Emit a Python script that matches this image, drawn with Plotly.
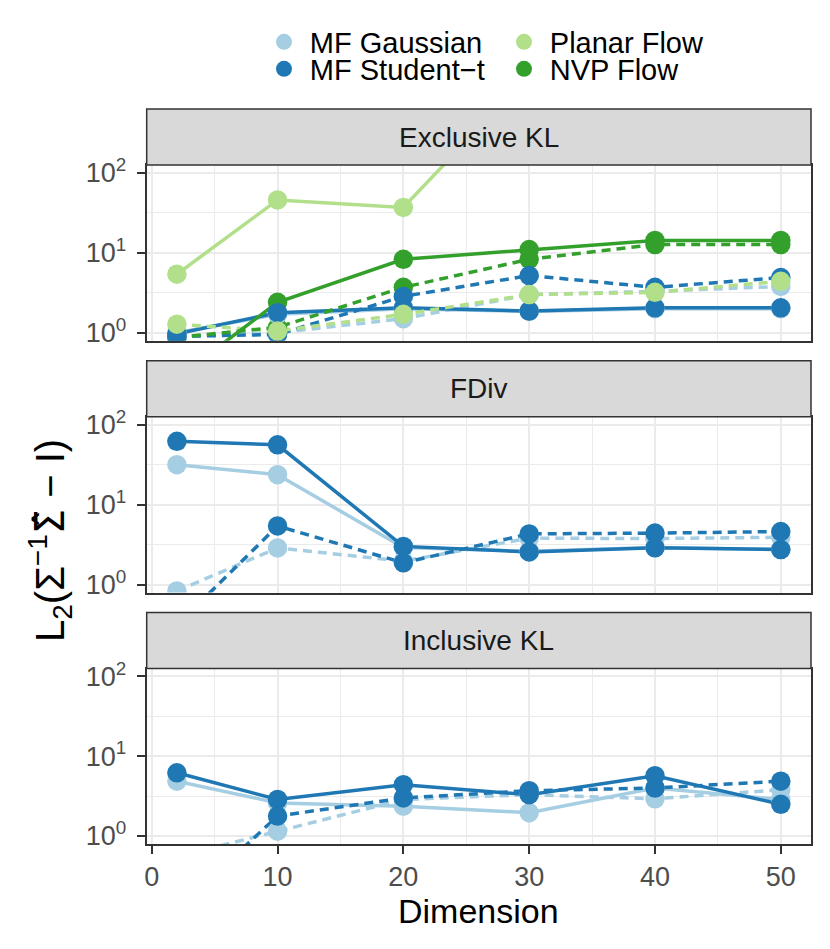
import plotly.graph_objects as go

# x values (dimension)
dims = [2, 10, 20, 30, 40, 50]

# Exclusive KL
excl_gauss_solid = [1.0, 1.7, 2.0, 1.85, 2.0, 2.0]
excl_gauss_dashed = [0.9, 1.0, 1.5, 3.0, 3.3, 3.8]
excl_student_solid = [0.97, 1.78, 2.05, 1.87, 2.05, 2.05]
excl_student_dashed = [0.9, 0.95, 2.85, 5.2, 3.7, 4.9]
excl_planar_solid = [5.4, 46, 37, 1700, 3000, 5000]
excl_planar_dashed = [1.28, 1.05, 1.7, 3.0, 3.2, 4.4]
excl_nvp_solid = [0.27, 2.4, 8.3, 11, 14.3, 14.3]
excl_nvp_dashed = [0.87, 1.17, 3.7, 8.3, 12.7, 12.7]

# FDiv
fdiv_gauss_solid = [31.6, 23.7, 2.9, 2.6, 2.9, 2.75]
fdiv_gauss_dashed = [0.83, 2.87, 1.96, 3.8, 3.76, 3.9]
fdiv_student_solid = [62, 56, 3.0, 2.56, 2.88, 2.74]
fdiv_student_dashed = [0.31, 5.4, 1.87, 4.3, 4.4, 4.6]

# Inclusive KL
incl_gauss_solid = [4.87, 2.6, 2.37, 1.96, 4.0, 2.87]
incl_gauss_dashed = [0.55, 1.15, 2.87, 3.3, 2.93, 3.8]
incl_student_solid = [6.2, 2.87, 4.4, 3.3, 5.7, 2.5]
incl_student_dashed = [0.12, 1.78, 3.0, 3.7, 4.0, 4.87]

panel_names = ['Exclusive KL', 'FDiv', 'Inclusive KL']
methods = ['MF Gaussian', 'MF Student\u2212t', 'Planar Flow', 'NVP Flow']
colors = ['#A6CEE3', '#1F78B4', '#B2DF8A', '#33A02C']
y_tickvals = [1, 10, 100]
y_ticktext = ['10<sup>0</sup>', '10<sup>1</sup>', '10<sup>2</sup>']

panel_data = [
    [(0, excl_gauss_solid, excl_gauss_dashed),
     (1, excl_student_solid, excl_student_dashed),
     (2, excl_planar_solid, excl_planar_dashed),
     (3, excl_nvp_solid, excl_nvp_dashed)],
    [(0, fdiv_gauss_solid, fdiv_gauss_dashed),
     (1, fdiv_student_solid, fdiv_student_dashed)],
    [(0, incl_gauss_solid, incl_gauss_dashed),
     (1, incl_student_solid, incl_student_dashed)],
]
# order the points are stacked in (bottom first)
point_order = [3, 0, 1, 2]

# page body has an 8px margin, so the figure is a bit smaller and all
# positions below are given in window pixels
OFF = 8
W, H = 830 - OFF, 949 - OFF
FONT = 'Liberation Sans, Arial, sans-serif'


def fx(px):
    return (px - OFF) / W


def fy(py):
    return 1 - (py - OFF) / H


left, right = 146.7, 811
panels = [(165, 340.7), (416.7, 592.5), (668.5, 844)]
strip_h = 56

fig = go.Figure()
legend_done = set()
for i, series in enumerate(panel_data):
    ax = '' if i == 0 else str(i + 1)
    # lines first, then points on top (like ggplot layers)
    for m, solid, dashed in series:
        for vals, dash in [(solid, 'solid'), (dashed, '9px,6px')]:
            fig.add_trace(go.Scatter(x=dims, y=vals, mode='lines',
                                     line=dict(color=colors[m], width=3.5, dash=dash),
                                     xaxis='x' + ax, yaxis='y' + ax,
                                     showlegend=False, hoverinfo='skip'))
    by_method = {s[0]: s for s in series}
    for m in point_order:
        if m not in by_method:
            continue
        _, solid, dashed = by_method[m]
        for vals in [solid, dashed]:
            show = m not in legend_done
            legend_done.add(m)
            fig.add_trace(go.Scatter(x=dims, y=vals, mode='markers',
                                     marker=dict(color=colors[m], size=19.5),
                                     name='\u2009' + methods[m], showlegend=show,
                                     legendrank=m + 1,
                                     legend='legend' if m in (0, 2) else 'legend2',
                                     xaxis='x' + ax, yaxis='y' + ax))

layout = dict(width=W, height=H, margin=dict(l=0, r=0, t=0, b=0),
              plot_bgcolor='white', paper_bgcolor='white',
              font=dict(family=FONT, color='black'))

shapes = []
annotations = []
for i, (top, bottom) in enumerate(panels):
    ax = '' if i == 0 else str(i + 1)
    last = i == len(panels) - 1
    layout['xaxis' + ax] = dict(
        domain=[fx(left), fx(right)], range=[-0.4, 52.4], anchor='y' + ax,
        automargin=False,
        tickvals=[0, 10, 20, 30, 40, 50], showticklabels=last,
        ticks='outside' if last else '', ticklen=8, tickwidth=2, tickcolor='#333333',
        tickfont=dict(size=27, color='#4D4D4D'),
        showgrid=True, gridcolor='#EBEBEB', gridwidth=2,
        minor=dict(tickvals=[5, 15, 25, 35, 45], showgrid=True,
                   gridcolor='#EBEBEB', gridwidth=1, ticks=''),
        showline=True, mirror=True, linecolor='#333333', linewidth=2, zeroline=False)
    layout['yaxis' + ax] = dict(
        domain=[fy(bottom), fy(top)], type='log', range=[-0.1, 2.1], anchor='x' + ax,
        automargin=False,
        tickvals=y_tickvals, ticktext=y_ticktext, ticklabelstandoff=5,
        ticks='outside', ticklen=8, tickwidth=2, tickcolor='#333333',
        tickfont=dict(size=27, color='#4D4D4D'),
        showgrid=True, gridcolor='#EBEBEB', gridwidth=2,
        minor=dict(tickvals=[10 ** 0.5, 10 ** 1.5], showgrid=True,
                   gridcolor='#EBEBEB', gridwidth=1, ticks=''),
        showline=True, mirror=True, linecolor='#333333', linewidth=2, zeroline=False)
    shapes.append(dict(type='rect', xref='paper', yref='paper',
                       x0=fx(left), x1=fx(right), y0=fy(top), y1=fy(top - strip_h),
                       fillcolor='#D9D9D9', line=dict(color='#333333', width=1.5)))
    annotations.append(dict(text=panel_names[i], xref='paper', yref='paper',
                            x=fx((left + right) / 2), y=fy(top - strip_h / 2),
                            xanchor='center', yanchor='middle', showarrow=False,
                            font=dict(size=28, color='#1A1A1A')))

annotations.append(dict(text='Dimension', xref='paper', yref='paper',
                        x=fx((left + right) / 2), y=fy(911), xanchor='center',
                        yanchor='middle', showarrow=False, font=dict(size=34)))
annotations.append(dict(text='L<sub>2</sub>(\u03a3<sup>\u22121</sup>'
                             '<span style="font-family:DejaVu Sans">\u03a3\u0302</span>'
                             '\u00a0\u2212\u00a0I)',
                        xref='paper', yref='paper', x=fx(50), y=fy(541),
                        xanchor='center', yanchor='middle', textangle=-90,
                        showarrow=False, font=dict(size=40)))

layout['shapes'] = shapes
layout['annotations'] = annotations
leg = dict(orientation='h', xanchor='left', yanchor='middle', x=fx(264),
           entrywidth=195, entrywidthmode='pixels', font=dict(size=29, color='black'),
           bgcolor='rgba(0,0,0,0)', itemwidth=30)
layout['legend'] = dict(leg, y=fy(42))
layout['legend2'] = dict(leg, y=fy(69))

fig.update_layout(layout)
fig.write_html('out.html')
